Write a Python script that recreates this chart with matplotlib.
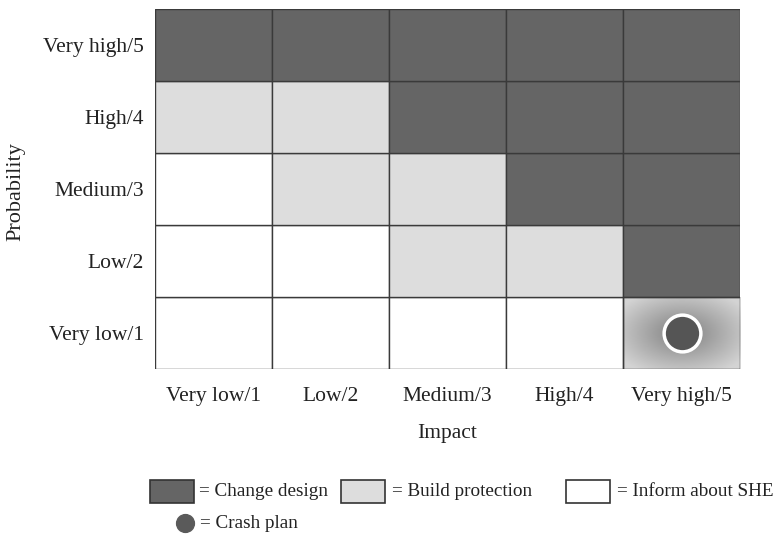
import matplotlib.pyplot as plt
import numpy as np
from matplotlib.patches import Rectangle

plt.rcParams['font.family'] = ['Liberation Serif', 'DejaVu Serif']

impact_labels = ['Very low/1', 'Low/2', 'Medium/3', 'High/4', 'Very high/5']
prob_labels = ['Very low/1', 'Low/2', 'Medium/3', 'High/4', 'Very high/5']

# action level per cell, rows = probability 1..5, cols = impact 1..5
# 0 = inform about SHE, 1 = build protection, 2 = change design, 3 = crash plan
levels = np.array([
    [0, 0, 0, 0, 3],
    [0, 0, 1, 1, 2],
    [0, 1, 1, 2, 2],
    [1, 1, 2, 2, 2],
    [2, 2, 2, 2, 2],
])

dark = '#656565'
light = '#dddddd'
white = '#ffffff'
edge = '#3a3a3a'
txt = '#222222'
colors = {0: white, 1: light, 2: dark}

fig = plt.figure(figsize=(7.78, 5.36), dpi=100)
ax = fig.add_axes([0.1992, 0.3116, 0.752, 0.6716])

for r in range(5):
    for c in range(5):
        lv = levels[r, c]
        if lv == 3:
            # radial gradient background
            yy, xx = np.mgrid[-1:1:200j, -1:1:200j]
            d = np.sqrt(xx**2 + yy**2)
            vals = np.clip(0.50 + 0.26 * d, 0, 0.83)
            ax.imshow(vals, cmap='gray', vmin=0, vmax=1,
                      extent=[c, c + 1, r, r + 1], aspect='auto', zorder=1,
                      interpolation='bilinear')
            ax.add_patch(Rectangle((c, r), 1, 1, facecolor='none', edgecolor=edge, lw=1.0, zorder=3))
        else:
            ax.add_patch(Rectangle((c, r), 1, 1, facecolor=colors[lv], edgecolor=edge, lw=1.0, zorder=2))

ax.set_xlim(0, 5)
ax.set_ylim(0, 5)

# crash plan marker
ax.scatter([4.5], [0.5], s=700, c='#555555', edgecolors='white', linewidths=2.5, zorder=5)

ax.set_xticks(np.arange(5) + 0.5)
ax.set_xticklabels(impact_labels, fontsize=15.5)
ax.set_yticks(np.arange(5) + 0.5)
ax.set_yticklabels(prob_labels, fontsize=15.5)
ax.tick_params(axis='x', length=0, pad=13, colors=txt)
ax.tick_params(axis='y', length=0, pad=8, colors=txt)
for s in ax.spines.values():
    s.set_visible(False)

ax.set_xlabel('Impact', fontsize=15.5, labelpad=13, color=txt)
fig.text(0.02, 0.642, 'Probability', rotation=90, va='center', ha='center',
         fontsize=16, color=txt)

# legend
def box(x0, color):
    fig.patches.append(Rectangle((x0 / 778, 1 - 503 / 536), 44 / 778, 23 / 536,
                                 transform=fig.transFigure, facecolor=color,
                                 edgecolor='#333333', lw=1.2))

ly = 1 - 491 / 536
box(150, dark)
fig.text(199 / 778, ly, '= Change design', fontsize=13.8, va='center', color=txt)
box(341, light)
fig.text(392 / 778, ly, '= Build protection', fontsize=13.8, va='center', color=txt)
box(566, white)
fig.text(617 / 778, ly, '= Inform about SHE', fontsize=13.8, va='center', color=txt)
ax.scatter([185 / 778], [1 - 523 / 536], s=165, c='#5a5a5a', transform=fig.transFigure,
           clip_on=False, zorder=5)
fig.text(200 / 778, 1 - 523 / 536, '= Crash plan', fontsize=13.8, va='center', color=txt)

fig.savefig('out.png', dpi=100)
